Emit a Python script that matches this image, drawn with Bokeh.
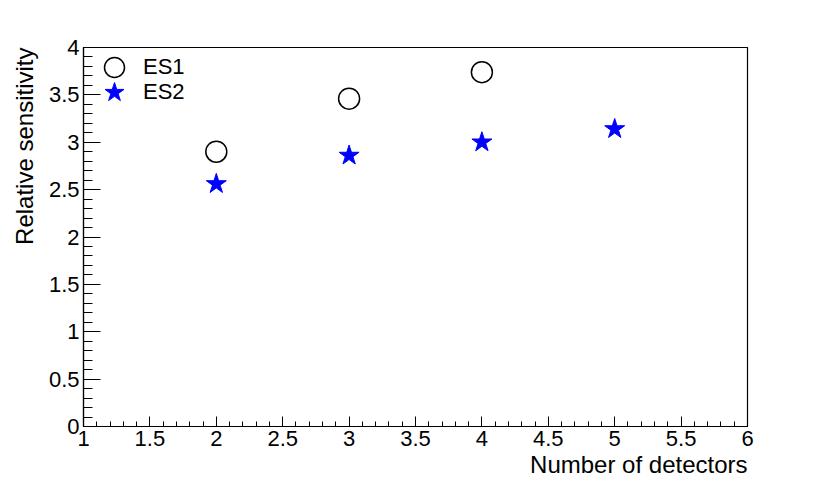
from bokeh.plotting import figure
from bokeh.models import (Range1d, FixedTicker, Legend, LegendItem, Title)
from bokeh.embed import file_html
from bokeh.resources import INLINE

# ---- data ----
x_es1 = [2, 3, 4]
y_es1 = [2.90, 3.46, 3.74]
x_es2 = [2, 3, 4, 5]
y_es2 = [2.56, 2.86, 3.00, 3.14]

x_ticks = [1, 1.5, 2, 2.5, 3, 3.5, 4, 4.5, 5, 5.5, 6]
x_tick_labels = ["1", "1.5", "2", "2.5", "3", "3.5", "4", "4.5", "5", "5.5", "6"]
y_ticks = [0, 0.5, 1, 1.5, 2, 2.5, 3, 3.5, 4]
y_tick_labels = ["0", "0.5", "1", "1.5", "2", "2.5", "3", "3.5", "4"]

x_title = "Number of detectors"
y_title = "Relative sensitivity"
series_names = ["ES1", "ES2"]

FONT = "Liberation Sans"

p = figure(width=830, height=478, output_backend="svg", toolbar_location=None,
           x_range=Range1d(1, 6), y_range=Range1d(0, 4),
           min_border_left=83, min_border_right=83,
           min_border_top=47, min_border_bottom=48)
p.background_fill_color = "white"
p.border_fill_color = "white"
p.outline_line_color = "black"
p.outline_line_width = 1.2
p.xgrid.visible = False
p.ygrid.visible = False

x_minor = [round(1 + 0.1 * i, 2) for i in range(51)]
y_minor = [round(0.1 * i, 2) for i in range(41)]
p.xaxis.ticker = FixedTicker(ticks=x_ticks, minor_ticks=x_minor)
p.yaxis.ticker = FixedTicker(ticks=y_ticks, minor_ticks=y_minor)
p.xaxis.major_label_overrides = {float(t): l for t, l in zip(x_ticks, x_tick_labels)}
p.yaxis.major_label_overrides = {float(t): l for t, l in zip(y_ticks, y_tick_labels)}

for ax, tin, tmin in ((p.xaxis, 10, 5), (p.yaxis, 17, 9)):
    ax.major_tick_in = tin
    ax.major_tick_out = 0
    ax.minor_tick_in = tmin
    ax.minor_tick_out = 0
    ax.axis_line_color = "black"
    ax.axis_line_width = 1.2
    ax.major_tick_line_color = "black"
    ax.minor_tick_line_color = "black"
    ax.major_label_text_font = FONT
    ax.major_label_text_font_size = "22px"
    ax.major_label_text_color = "black"
    ax.major_label_standoff = 4

r1 = p.scatter(x_es1, y_es1, marker="circle", size=21, fill_color=None,
               line_color="black", line_width=1.5)
r2 = p.scatter(x_es2, y_es2, marker="star", size=21, fill_color="blue",
               line_color="blue", line_width=1)

# one legend per entry so the rows can sit 25px apart with 20px glyphs
for name, rend, loc_y in ((series_names[0], r1, 334), (series_names[1], r2, 309)):
    lg = Legend(items=[LegendItem(label=name, renderers=[rend])],
                location=(6, loc_y), glyph_width=50, glyph_height=50,
                padding=0, margin=0, label_standoff=4,
                label_text_font=FONT, label_text_font_size="22px",
                label_text_color="black",
                background_fill_alpha=0, border_line_alpha=0)
    p.add_layout(lg)

p.add_layout(Title(text=x_title, align="right", text_font=FONT,
                   text_font_size="24px", text_font_style="normal",
                   text_color="black", standoff=1), "below")
p.add_layout(Title(text=y_title, align="right", text_font=FONT,
                   text_font_size="24px", text_font_style="normal",
                   text_color="black", standoff=15), "left")

open("out.html", "w").write(file_html(p, INLINE))
